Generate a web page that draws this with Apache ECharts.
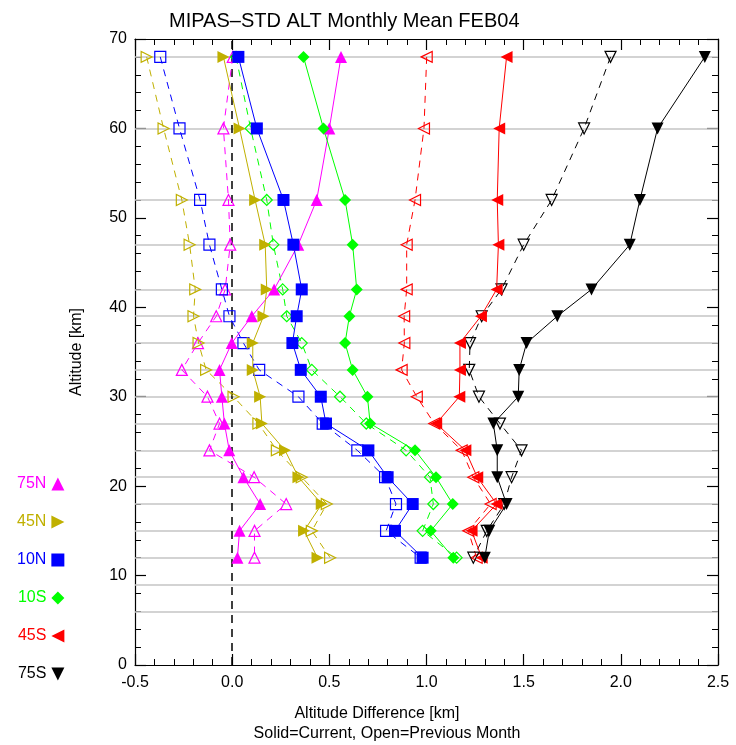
<!DOCTYPE html>
<html>
<head>
<meta charset="utf-8">
<script src="https://cdn.jsdelivr.net/npm/echarts@6/dist/echarts.min.js"></script>
<style>html,body{margin:0;padding:0;background:#fff;}#c{width:736px;height:745px;}</style>
</head>
<body>
<div id="c"></div>
<script>
var altitudes = [68,60,52,47,42,39,36,33,30,27,24,21,18,15,12];
var gridAltitudes = [68,60,52,47,42,39,36,33,30,27,24,21,18,15,12,9,6];
var xTicks = [-0.5,0.0,0.5,1.0,1.5,2.0,2.5];
var yTicks = [0,10,20,30,40,50,60,70];

var n75Current  = [0.56,0.50,0.435,0.34,0.216,0.101,-0.002,-0.065,-0.053,-0.04,-0.015,0.058,0.144,0.038,0.027];
var n75Previous = [0.003,-0.045,-0.019,-0.01,-0.036,-0.082,-0.176,-0.259,-0.127,-0.065,-0.117,0.113,0.278,0.115,0.115];
var n45Current  = [-0.045,0.038,0.118,0.17,0.178,0.161,0.106,0.106,0.144,0.153,0.272,0.341,0.461,0.37,0.439];
var n45Previous = [-0.44,-0.353,-0.259,-0.219,-0.19,-0.199,-0.173,-0.134,0.007,0.135,0.23,0.358,0.487,0.41,0.504];
var n10Current  = [0.032,0.127,0.264,0.315,0.358,0.332,0.31,0.353,0.456,0.483,0.701,0.80,0.929,0.838,0.98];
var n10Previous = [-0.37,-0.271,-0.165,-0.117,-0.053,-0.014,0.058,0.139,0.341,0.466,0.644,0.787,0.843,0.792,0.97];
var s10Current  = [0.367,0.47,0.581,0.62,0.641,0.603,0.581,0.62,0.696,0.71,0.941,1.049,1.135,1.022,1.138];
var s10Previous = [0.02,0.095,0.178,0.212,0.26,0.281,0.358,0.41,0.555,0.69,0.895,1.018,1.035,0.98,1.155];
var s45Current  = [1.412,1.374,1.364,1.37,1.361,1.28,1.172,1.172,1.169,1.05,1.2,1.261,1.361,1.232,1.284];
var s45Previous = [1.001,0.987,0.941,0.898,0.898,0.885,0.886,0.872,0.95,1.04,1.181,1.241,1.33,1.215,1.258];
var s75Current  = [2.432,2.189,2.098,2.046,1.849,1.673,1.515,1.477,1.472,1.344,1.364,1.364,1.412,1.323,1.30];
var s75Previous = [1.947,1.811,1.644,1.5,1.386,1.284,1.224,1.22,1.27,1.378,1.489,1.438,1.40,1.31,1.241];

var regions = [
  {name:'75N', color:'#ff00ff', symbol:'triangle', rot:0, cur:n75Current, prev:n75Previous, icon:'triangle'},
  {name:'45N', color:'#c0b000', symbol:'triangle', rot:-90, cur:n45Current, prev:n45Previous, icon:'path://M0,0L10,5L0,10Z'},
  {name:'10N', color:'#0000ff', symbol:'rect', rot:0, cur:n10Current, prev:n10Previous, icon:'rect'},
  {name:'10S', color:'#00ff00', symbol:'diamond', rot:0, cur:s10Current, prev:s10Previous, icon:'diamond'},
  {name:'45S', color:'#ff0000', symbol:'triangle', rot:90, cur:s45Current, prev:s45Previous, icon:'path://M10,0L0,5L10,10Z'},
  {name:'75S', color:'#000000', symbol:'triangle', rot:180, cur:s75Current, prev:s75Previous, icon:'path://M0,0L10,0L5,10Z'}
];

var FONT = 'Liberation Sans';
function pairs(xs){ return xs.map(function(v,i){ return [v, altitudes[i]]; }); }

var series = [];
series.push({
  type:'line', name:'grid', data:[], silent:true, z:1,
  markLine:{
    silent:true, symbol:'none', animation:false, label:{show:false}, z:1,
    lineStyle:{color:'#c4c4c4', width:1.6, type:'solid'},
    data: gridAltitudes.map(function(a){ return {yAxis:a}; })
  }
});
series.push({
  type:'line', name:'zero', data:[], silent:true, z:2,
  markLine:{
    silent:true, symbol:'none', animation:false, label:{show:false}, z:2,
    lineStyle:{color:'#000', width:1.5, type:[8,6]},
    data:[{xAxis:0}]
  }
});
regions.forEach(function(r){
  series.push({
    type:'line', name:r.name+' previous', data:pairs(r.prev), z:10,
    symbol:r.symbol, symbolSize:11, symbolRotate:r.rot,
    lineStyle:{color:r.color, width:1, type:[7,6]},
    itemStyle:{color:'rgba(255,255,255,0)', borderColor:r.color, borderWidth:1.2},
    emphasis:{disabled:true}
  });
});
regions.forEach(function(r){
  series.push({
    type:'line', name:r.name, data:pairs(r.cur), z:11,
    symbol:r.symbol, symbolSize:12, symbolRotate:r.rot,
    lineStyle:{color:r.color, width:1},
    itemStyle:{color:r.color, borderColor:r.color, borderWidth:0},
    emphasis:{disabled:true}
  });
});

function axisCommon(){
  return {
    axisLine:{show:true, onZero:false, lineStyle:{color:'#000', width:1.2}},
    axisTick:{show:true, inside:true, length:11, lineStyle:{color:'#000', width:1.2}},
    minorTick:{show:true, splitNumber:5, length:6, lineStyle:{color:'#000', width:1}},
    splitLine:{show:false}
  };
}

var option = {
  animation:false,
  backgroundColor:'#fff',
  textStyle:{fontFamily:FONT},
  title:[
    {text:'MIPAS\u2013STD ALT Monthly Mean FEB04', left:164, top:6,
     textStyle:{fontFamily:FONT, fontSize:20, fontWeight:'normal', color:'#000'}},
    {text:'Altitude Difference [km]', left:372, top:701, textAlign:'center',
     textStyle:{fontFamily:FONT, fontSize:16, fontWeight:'normal', color:'#000'}},
    {text:'Solid=Current, Open=Previous Month', left:382, top:721, textAlign:'center',
     textStyle:{fontFamily:FONT, fontSize:16, fontWeight:'normal', color:'#000'}}
  ],
  legend:{
    orient:'vertical', left:12, top:471, align:'right',
    itemWidth:13, itemHeight:13, itemGap:22, selectedMode:false,
    textStyle:{fontFamily:FONT, fontSize:16},
    data: regions.map(function(r){
      return {name:r.name, icon:r.icon, itemStyle:{color:r.color}, textStyle:{color:r.color, fontSize:16, fontFamily:FONT}};
    })
  },
  grid:{left:135, right:18, top:39, bottom:80, containLabel:false},
  xAxis:[
    Object.assign({type:'value', min:xTicks[0], max:xTicks[xTicks.length-1], interval:0.5, position:'bottom',
      axisLabel:{color:'#000', fontSize:16, fontFamily:FONT, margin:10,
        formatter:function(v){ return v.toFixed(1); }}}, axisCommon()),
    Object.assign({type:'value', min:xTicks[0], max:xTicks[xTicks.length-1], interval:0.5, position:'top',
      axisLabel:{show:false}}, axisCommon())
  ],
  yAxis:[
    Object.assign({type:'value', min:yTicks[0], max:yTicks[yTicks.length-1], interval:10, position:'left',
      name:'Altitude [km]', nameLocation:'middle', nameGap:50, nameRotate:90,
      nameTextStyle:{color:'#000', fontSize:16, fontFamily:FONT},
      axisLabel:{color:'#000', fontSize:16, fontFamily:FONT, margin:8}}, axisCommon()),
    Object.assign({type:'value', min:yTicks[0], max:yTicks[yTicks.length-1], interval:10, position:'right',
      axisLabel:{show:false}}, axisCommon())
  ],
  series: series
};

var chart = echarts.init(document.getElementById('c'), null, {renderer:'canvas'});
chart.setOption(option);
</script>
</body>
</html>
